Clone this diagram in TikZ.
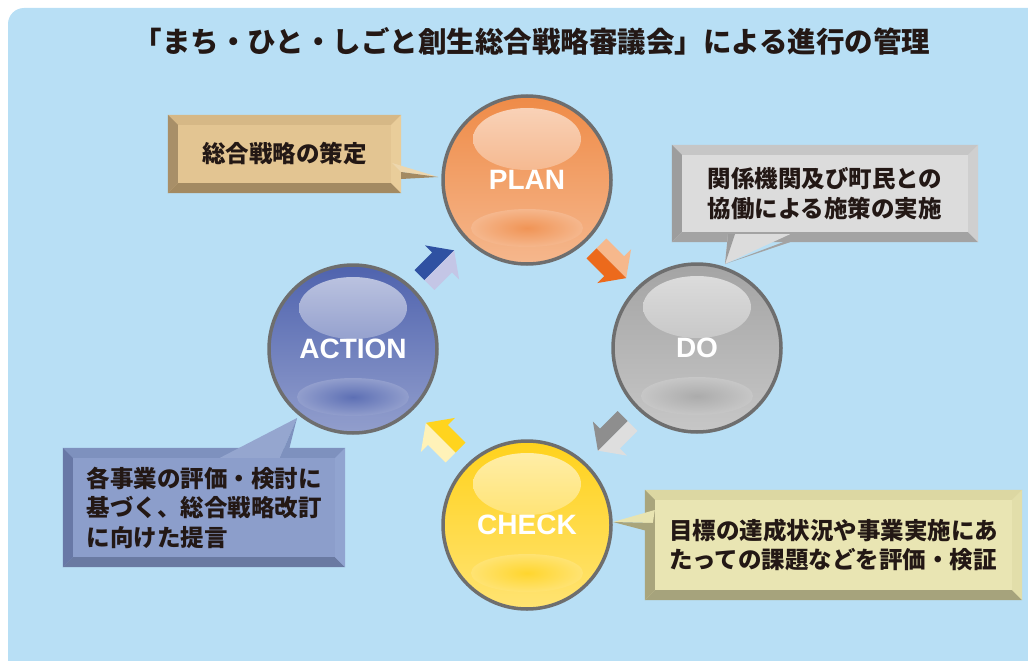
\documentclass[tikz,border=0pt]{standalone}
\usepackage{fontspec}
\setmainfont{Liberation Sans}
\newfontfamily\jpfont{Noto Sans CJK JP}
\usetikzlibrary{calc}

\definecolor{bgblue}{HTML}{B8DFF5}
\definecolor{ringgray}{HTML}{6E6E6E}
\definecolor{inkjp}{HTML}{231815}
\definecolor{planorange}{HTML}{EF8B47}
\definecolor{dogray}{HTML}{A4A4A4}
\definecolor{checkyellow}{HTML}{FFD21C}
\definecolor{actblue}{HTML}{4F63AE}
\definecolor{tanface}{HTML}{E3C592}
\definecolor{tantop}{HTML}{D6B886}
\definecolor{tanleft}{HTML}{A88F68}
\definecolor{tanbottom}{HTML}{A38A62}
\definecolor{tanright}{HTML}{E9CD9A}
\definecolor{grayface}{HTML}{DCDCDC}
\definecolor{graytop}{HTML}{C6C6C6}
\definecolor{grayleft}{HTML}{9D9D9D}
\definecolor{graybottom}{HTML}{A3A3A3}
\definecolor{grayright}{HTML}{CFCFCF}
\definecolor{blueface}{HTML}{8C9ECB}
\definecolor{bluetop}{HTML}{7E91BE}
\definecolor{blueleft}{HTML}{6878A6}
\definecolor{bluebottom}{HTML}{6A7AA2}
\definecolor{blueright}{HTML}{91A4D0}
\definecolor{yelface}{HTML}{E9E5B3}
\definecolor{yeltop}{HTML}{DCD7A2}
\definecolor{yelleft}{HTML}{A9A57C}
\definecolor{yelbottom}{HTML}{A6A37C}
\definecolor{yelright}{HTML}{E2DEAA}
\definecolor{arrblueA}{HTML}{2F51A2}
\definecolor{arrblueB}{HTML}{C4C6E6}
\definecolor{arrorangeA}{HTML}{F6B88C}
\definecolor{arrorangeB}{HTML}{EC6A1C}
\definecolor{arrgrayA}{HTML}{DEDEDE}
\definecolor{arrgrayB}{HTML}{8E8E8E}
\definecolor{arryelA}{HTML}{FFF2B8}
\definecolor{arryelB}{HTML}{FFD41E}

\tikzset{
  title/.style={font=\jpfont\bfseries\fontsize{28.5}{32}\selectfont, text=inkjp},
  ball/.style={circle, minimum size=168pt, inner sep=0pt, draw=ringgray, line width=3.5pt,
    text=white, font=\fontsize{28}{30}\selectfont\bfseries,
    top color=#1, bottom color=#1!62!white,
    path picture={
      \shade[top color=#1!35!white, bottom color=#1!92!white]
        ([yshift=41pt]path picture bounding box.center) ellipse [x radius=54pt, y radius=31pt];
      \shade[inner color=#1!92!white, outer color=#1!62!white]
        ([yshift=-48pt]path picture bounding box.center) ellipse [x radius=56pt, y radius=19pt];
    }},
  callout/.style={rectangle, inner sep=0pt, fill=#1, text=inkjp, align=left,
    font=\jpfont\bfseries\fontsize{23.5}{29.5}\selectfont},
}

\newcommand\bevelframe[5]{%
  \fill[#2] (#1.north west) -- (#1.north east) -- ([shift={(-10pt,-10pt)}]#1.north east) -- ([shift={(10pt,-10pt)}]#1.north west) -- cycle;
  \fill[#3] (#1.north west) -- ([shift={(10pt,-10pt)}]#1.north west) -- ([shift={(10pt,10pt)}]#1.south west) -- (#1.south west) -- cycle;
  \fill[#4] (#1.south west) -- ([shift={(10pt,10pt)}]#1.south west) -- ([shift={(-10pt,10pt)}]#1.south east) -- (#1.south east) -- cycle;
  \fill[#5] (#1.south east) -- ([shift={(-10pt,10pt)}]#1.south east) -- ([shift={(-10pt,-10pt)}]#1.north east) -- (#1.north east) -- cycle;
}

\newcommand\cyclearrow[4]{%
  \begin{scope}[shift={#1}, rotate=#2]
    \fill[#3] (-22,0) -- (-22,-14) -- (3,-14) -- (3,-24) -- (20,0) -- cycle;
    \fill[#4] (-22,0) -- (-22,14) -- (3,14) -- (3,24) -- (20,0) -- cycle;
  \end{scope}}

\begin{document}
\begin{tikzpicture}[x=1pt, y=-1pt]
\useasboundingbox (0,0) rectangle (1028,661);
\fill[bgblue, rounded corners=16pt] (8,8) rectangle (1060,700);

\node[title] (title) at (532,41) {「まち・ひと・しごと創生総合戦略審議会」による進行の管理};

\node[ball=planorange] (plan) at (527,180) {PLAN};
\node[ball=dogray] (do) at (697,348) {DO};
\node[ball=checkyellow] (check) at (527,525) {CHECK};
\node[ball=actblue] (act) at (353,349) {ACTION};

\cyclearrow{($(act)!.5!(plan)$)}{45}{arrblueA}{arrblueB}
\cyclearrow{($(plan)!.5!(do)$)}{-45}{arrorangeA}{arrorangeB}
\cyclearrow{($(do)!.5!(check)$)}{-135}{arrgrayA}{arrgrayB}
\cyclearrow{($(check)!.5!(act)$)}{135}{arryelA}{arryelB}

\node[callout=tanface, minimum width=233pt, minimum height=78pt] (planbox) at (284.5,154) {総合戦略の策定};
\bevelframe{planbox}{tantop}{tanleft}{tanbottom}{tanright}
\coordinate (plantip) at (438,177);
\fill[tanright!80!white] ([shift={(-9pt,-9pt)}]planbox.east) -- (plantip) -- ([yshift=-18pt]planbox.east) -- cycle;
\fill[tanbottom] ([yshift=-18pt]planbox.east) -- (plantip) -- ([yshift=-25pt]planbox.east) -- cycle;

\node[callout=grayface, minimum width=306pt, minimum height=97pt] (dobox) at (825,193.5) {関係機関及び町民との\\協働による施策の実施};
\bevelframe{dobox}{graytop}{grayleft}{graybottom}{grayright}
\coordinate (dotip) at (725,264);
\fill[grayface] ([shift={(-97pt,8pt)}]dobox.south) -- (dotip) -- ([shift={(-35pt,8pt)}]dobox.south) -- cycle;
\fill[grayleft] ([shift={(-97pt,8pt)}]dobox.south) -- (dotip) -- ([shift={(-90pt,8pt)}]dobox.south) -- cycle;
\fill[graybottom] ([shift={(-42pt,0pt)}]dobox.south) -- (dotip) -- ([shift={(-35pt,0pt)}]dobox.south) -- cycle;

\node[callout=blueface, minimum width=282pt, minimum height=119pt] (actbox) at (204,507.5) {各事業の評価・検討に\\基づく、総合戦略改訂\\に向けた提言};
\bevelframe{actbox}{bluetop}{blueleft}{bluebottom}{blueright}
\coordinate (acttip) at (297,418);
\fill[blueface!92!white] ([shift={(16pt,-10pt)}]actbox.north) -- (acttip) -- ([shift={(76pt,-10pt)}]actbox.north) -- cycle;
\fill[bluetop] ([shift={(76pt,-10pt)}]actbox.north) -- (acttip) -- ([shift={(83pt,-10pt)}]actbox.north) -- cycle;

\node[callout=yelface, minimum width=377pt, minimum height=110pt] (checkbox) at (833.5,545) {目標の達成状況や事業実施にあ\\たっての課題などを評価・検証};
\bevelframe{checkbox}{yeltop}{yelleft}{yelbottom}{yelright}
\coordinate (checktip) at (613,522);
\fill[yelface!90!yeltop] ([shift={(10pt,35pt)}]checkbox.west) -- (checktip) -- ([shift={(8pt,22pt)}]checkbox.west) -- cycle;
\fill[yelleft] ([shift={(8pt,22pt)}]checkbox.west) -- (checktip) -- ([shift={(10pt,12pt)}]checkbox.west) -- cycle;
\end{tikzpicture}
\end{document}
